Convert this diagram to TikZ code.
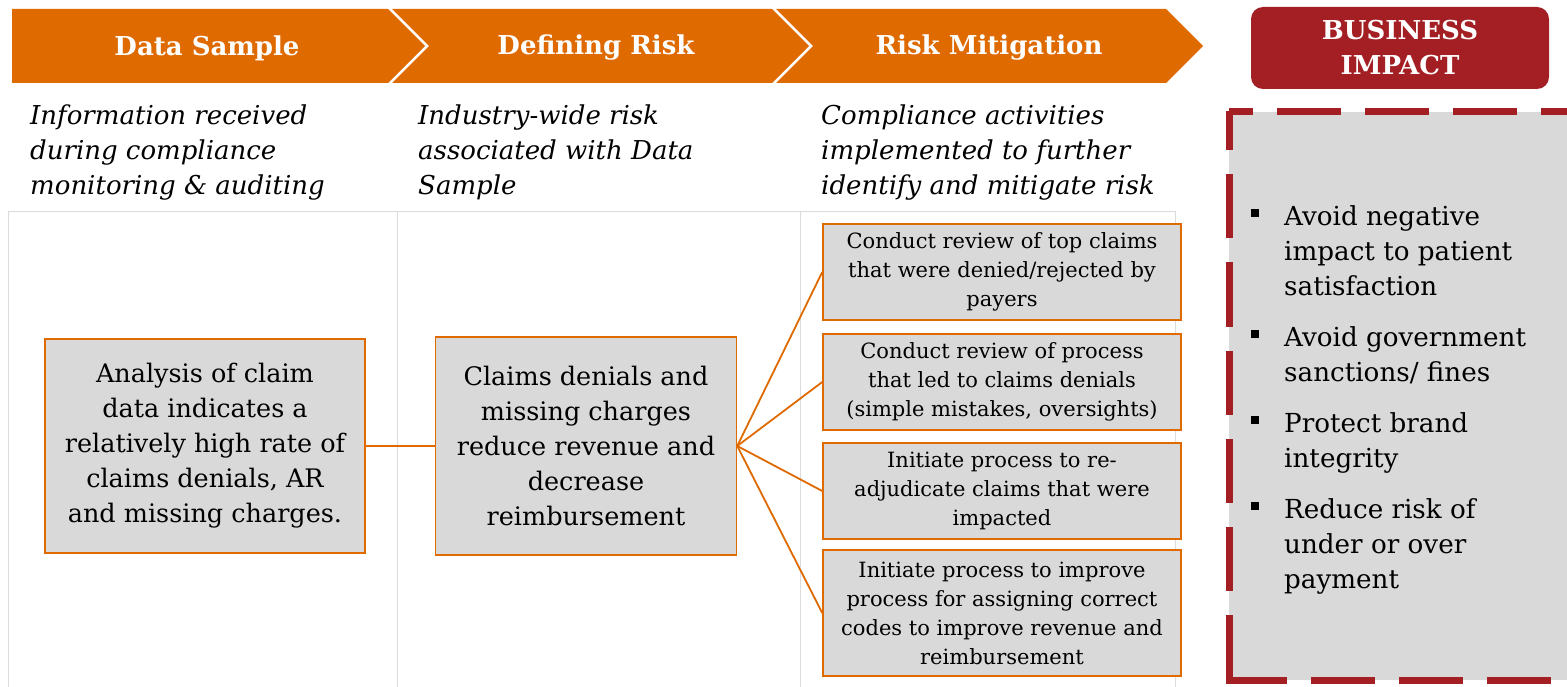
\documentclass[tikz,border=0pt]{standalone}
\usepackage{fontspec}
\setmainfont{DejaVu Serif}
\usepackage{tikz}
\definecolor{chevorange}{RGB}{222,106,0}
\definecolor{impactred}{RGB}{163,31,35}
\definecolor{boxgray}{RGB}{217,217,217}
\definecolor{gridgray}{RGB}{220,220,220}

\begin{document}
\begin{tikzpicture}[x=1pt,y=-1pt]
    \tikzstyle{chevron} = [fill=chevorange,draw=none]
    \tikzstyle{title} = [text=white,font=\fontsize{26}{30}\selectfont\bfseries]
    \tikzstyle{caption} = [anchor=base west,align=left,inner sep=0pt,font=\fontsize{26}{35}\selectfont\itshape]
    \tikzstyle{block} = [rectangle,draw=chevorange,line width=1.5pt,fill=boxgray,align=center,inner sep=0pt,font=\fontsize{25.5}{35}\selectfont]
    \tikzstyle{action} = [rectangle,draw=chevorange,line width=1.5pt,fill=boxgray,align=center,inner sep=0pt,minimum width=358,font=\fontsize{21}{29}\selectfont]
    \tikzstyle{link} = [draw=chevorange,line width=1.8pt]
    \tikzstyle{item} = [anchor=base west,align=left,inner sep=0pt,font=\fontsize{26.2}{35}\selectfont]
    \tikzstyle{bullet} = [fill=black,minimum size=8,inner sep=0pt]
    \tikzstyle{dashedge} = [impactred,line width=7pt,dash pattern=on 64pt off 24pt]
    \useasboundingbox (0,0) rectangle (1567,687);

    \draw [gridgray,line width=1pt] (8,687) -- (8,212) -- (1175,212) -- (1175,687);
    \draw [gridgray,line width=1pt] (397,212) -- (397,687);
    \draw [gridgray,line width=1pt] (800,212) -- (800,687);

    \path [chevron] (12,9) -- (388,9) -- (425,46) -- (388,83) -- (12,83) -- cycle;
    \path [chevron] (392,9) -- (772,9) -- (809,46) -- (772,83) -- (392,83) -- (429,46) -- cycle;
    \path [chevron] (776,9) -- (1166,9) -- (1203,46) -- (1166,83) -- (776,83) -- (813,46) -- cycle;
    \node (sample)[title] at (207,48) {Data Sample};
    \node (defining)[title] at (596,48) {Defining Risk};
    \node (mitigation)[title] at (989,48) {Risk Mitigation};

    \node (impact)[rectangle,rounded corners=12pt,fill=impactred,minimum width=298,minimum height=82,align=center,text=white,font=\fontsize{26}{35}\selectfont\bfseries] at (1400,48) {BUSINESS\\IMPACT};

    \node (sampletext)[caption] at (30,195) {Information received\\during compliance\\monitoring \& auditing};
    \node (definingtext)[caption] at (418,195) {Industry-wide risk\\associated with Data\\Sample};
    \node (mitigationtext)[caption] at (821,195) {Compliance activities\\implemented to further\\identify and mitigate risk};

    \node (analysis)[block,minimum width=320,minimum height=214] at (205,446) {Analysis of claim\\data indicates a\\relatively high rate of\\claims denials, AR\\and missing charges.};
    \node (denials)[block,minimum width=301,minimum height=218] at (586,446) {Claims denials and\\missing charges\\reduce revenue and\\decrease\\reimbursement};

    \node (review)[action,minimum height=96] at (1002,272) {Conduct review of top claims\\that were denied/rejected by\\payers};
    \node (process)[action,minimum height=96] at (1002,382) {Conduct review of process\\that led to claims denials\\(simple mistakes, oversights)};
    \node (adjudicate)[action,minimum height=96] at (1002,491) {Initiate process to re-\\adjudicate claims that were\\impacted};
    \node (codes)[action,minimum height=126] at (1002,613) {Initiate process to improve\\process for assigning correct\\codes to improve revenue and\\reimbursement};

    \draw [link] (analysis.east) -- (denials.west);
    \foreach \target in {review,process,adjudicate,codes}
        \draw [link] (denials.east) -- (\target.west);

    \fill [boxgray] (1229,112) rectangle (1567,680);
    \draw [dashedge,dash phase=40pt] (1229,111.5) -- (1567,111.5);
    \draw [dashedge,dash phase=25pt] (1229,111.5) -- (1229,683.5);
    \draw [dashedge,dash phase=3pt] (1225.5,680) -- (1567,680);

    \foreach \i/\y/\txt in {1/295/{Avoid negative\\impact to patient\\satisfaction},2/381/{Avoid government\\sanctions/ fines},3/467/{Protect brand\\integrity},4/588/{Reduce risk of\\under or over\\payment}}
        \node (benefit\i)[item] at (1284,\y) {\txt};
    \foreach \i/\y in {1/213,2/334,3/420,4/506}
        \node (bullet\i)[bullet] at (1255,\y) {};
\end{tikzpicture}
\end{document}
